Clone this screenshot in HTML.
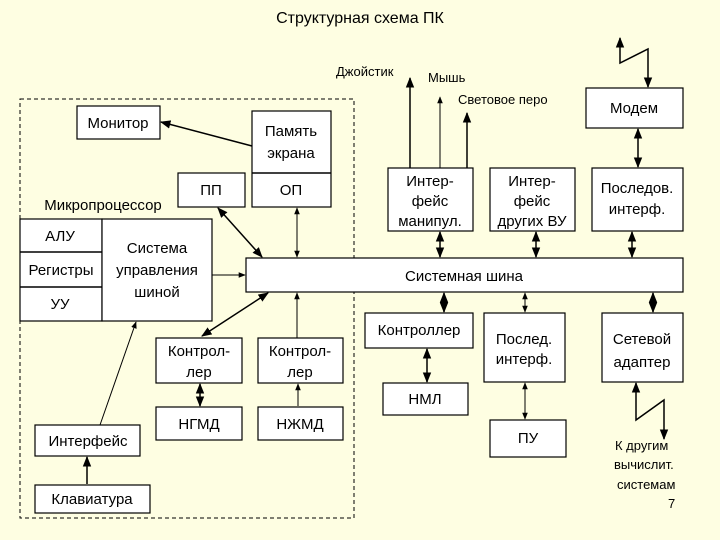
<!DOCTYPE html>
<html><head><meta charset="utf-8"><style>
html,body{margin:0;padding:0;background:#FEFEE2;}
svg{display:block}
text{font-family:"Liberation Sans",sans-serif;fill:#000}
.b{fill:#fff;stroke:#000;stroke-width:1.2}
.l{stroke:#000;stroke-width:1.5;fill:none}
.t{font-size:15px;text-anchor:middle}
.s{font-size:13px}
</style></head><body>
<svg width="720" height="540" viewBox="0 0 720 540">
<defs>
<marker id="a" viewBox="0 0 10 10" refX="9" refY="5" markerWidth="7" markerHeight="7" orient="auto-start-reverse"><path d="M0,1 L10,5 L0,9 z" fill="#000"/></marker>
</defs>
<text x="360" y="23" font-size="16" text-anchor="middle">Структурная схема ПК</text>
<rect x="20" y="99" width="334" height="419" fill="none" stroke="#000" stroke-dasharray="4,3"/>

<rect class="b" x="77" y="106" width="83" height="33"/><text class="t" x="118" y="128">Монитор</text>
<rect class="b" x="252" y="111" width="79" height="96"/><line class="l" x1="252" y1="173" x2="331" y2="173"/>
<text class="t" x="291" y="136">Память</text><text class="t" x="291" y="158">экрана</text><text class="t" x="291" y="195">ОП</text>
<rect class="b" x="178" y="173" width="67" height="34"/><text class="t" x="211" y="195">ПП</text>
<text class="t" x="103" y="210">Микропроцессор</text>
<rect class="b" x="20" y="219" width="82" height="102"/><line class="l" x1="20" y1="252" x2="102" y2="252"/><line class="l" x1="20" y1="287" x2="102" y2="287"/>
<text class="t" x="60" y="241">АЛУ</text><text class="t" x="61" y="275">Регистры</text><text class="t" x="60" y="309">УУ</text>
<rect class="b" x="102" y="219" width="110" height="102"/>
<text class="t" x="157" y="253">Система</text><text class="t" x="157" y="275">управления</text><text class="t" x="157" y="297">шиной</text>
<rect class="b" x="246" y="258" width="437" height="34"/><text class="t" x="464" y="281">Системная шина</text>

<rect class="b" x="388" y="168" width="85" height="63"/><text class="t" x="430" y="186">Интер-</text><text class="t" x="430" y="206">фейс</text><text class="t" x="430" y="226">манипул.</text>
<rect class="b" x="490" y="168" width="85" height="63"/><text class="t" x="532" y="186">Интер-</text><text class="t" x="532" y="206">фейс</text><text class="t" x="532" y="226">других ВУ</text>
<rect class="b" x="592" y="168" width="91" height="63"/><text class="t" x="637" y="193">Последов.</text><text class="t" x="637" y="214">интерф.</text>
<rect class="b" x="586" y="88" width="97" height="40"/><text class="t" x="634" y="113">Модем</text>
<text class="s" x="336" y="76">Джойстик</text><text class="s" x="428" y="82">Мышь</text><text class="s" x="458" y="104">Световое перо</text>
<line class="l" x1="410" y1="168" x2="410" y2="78" marker-end="url(#a)"/>
<line class="l" x1="440" y1="168" x2="440" y2="97" marker-end="url(#a)" style="stroke-width:1"/>
<line class="l" x1="467" y1="168" x2="467" y2="113" marker-end="url(#a)"/>
<polyline class="l" points="620,38 620,63 648,49 648,87" marker-start="url(#a)" marker-end="url(#a)"/>
<line class="l" x1="638" y1="129" x2="638" y2="167" marker-start="url(#a)" marker-end="url(#a)"/>
<line class="l" x1="440" y1="232" x2="440" y2="257" marker-start="url(#a)" marker-end="url(#a)"/>
<line class="l" x1="536" y1="232" x2="536" y2="257" marker-start="url(#a)" marker-end="url(#a)"/>
<line class="l" x1="632" y1="232" x2="632" y2="257" marker-start="url(#a)" marker-end="url(#a)"/>

<line class="l" x1="252" y1="146" x2="161" y2="122" marker-end="url(#a)"/>
<line class="l" x1="218" y1="208" x2="262" y2="257" marker-start="url(#a)" marker-end="url(#a)"/>
<line class="l" x1="297" y1="208" x2="297" y2="257" marker-start="url(#a)" marker-end="url(#a)" style="stroke-width:1"/>
<line class="l" x1="212" y1="275" x2="245" y2="275" marker-end="url(#a)" style="stroke-width:1"/>
<line class="l" x1="268" y1="293" x2="202" y2="336" marker-start="url(#a)" marker-end="url(#a)"/>
<line class="l" x1="297" y1="338" x2="297" y2="293" marker-end="url(#a)" style="stroke-width:1"/>

<rect class="b" x="156" y="338" width="86" height="45"/><text class="t" x="199" y="356">Контрол-</text><text class="t" x="199" y="377">лер</text>
<rect class="b" x="258" y="338" width="85" height="45"/><text class="t" x="300" y="356">Контрол-</text><text class="t" x="300" y="377">лер</text>
<rect class="b" x="156" y="407" width="86" height="33"/><text class="t" x="199" y="429">НГМД</text>
<rect class="b" x="258" y="407" width="85" height="33"/><text class="t" x="300" y="429">НЖМД</text>
<line class="l" x1="200" y1="384" x2="200" y2="406" marker-start="url(#a)" marker-end="url(#a)"/>
<line class="l" x1="298" y1="406" x2="298" y2="384" marker-end="url(#a)" style="stroke-width:1"/>
<rect class="b" x="35" y="425" width="105" height="31"/><text class="t" x="88" y="446">Интерфейс</text>
<rect class="b" x="35" y="485" width="115" height="28"/><text class="t" x="92" y="504">Клавиатура</text>
<line class="l" x1="87" y1="484" x2="87" y2="457" marker-end="url(#a)"/>
<line class="l" x1="100" y1="425" x2="136" y2="322" marker-end="url(#a)" style="stroke-width:1"/>

<rect class="b" x="365" y="313" width="108" height="35"/><text class="t" x="419" y="335">Контроллер</text>
<rect class="b" x="383" y="383" width="85" height="32"/><text class="t" x="425" y="404">НМЛ</text>
<rect class="b" x="484" y="313" width="81" height="69"/><text class="t" x="524" y="344">Послед.</text><text class="t" x="524" y="364">интерф.</text>
<rect class="b" x="490" y="420" width="76" height="37"/><text class="t" x="528" y="443">ПУ</text>
<rect class="b" x="602" y="313" width="81" height="69"/><text class="t" x="642" y="344">Сетевой</text><text class="t" x="642" y="367">адаптер</text>
<line class="l" x1="444" y1="293" x2="444" y2="312" marker-start="url(#a)" marker-end="url(#a)"/>
<line class="l" x1="525" y1="293" x2="525" y2="312" marker-start="url(#a)" marker-end="url(#a)" style="stroke-width:1"/>
<line class="l" x1="653" y1="293" x2="653" y2="312" marker-start="url(#a)" marker-end="url(#a)"/>
<line class="l" x1="427" y1="349" x2="427" y2="382" marker-start="url(#a)" marker-end="url(#a)"/>
<line class="l" x1="525" y1="383" x2="525" y2="419" marker-start="url(#a)" marker-end="url(#a)" style="stroke-width:1"/>
<polyline class="l" points="636,383 636,420 664,400 664,439" marker-start="url(#a)" marker-end="url(#a)"/>
<text class="s" x="615" y="450">К другим</text><text class="s" x="614" y="469">вычислит.</text><text class="s" x="617" y="489">системам</text><text class="s" x="668" y="508">7</text>
</svg>
</body></html>
